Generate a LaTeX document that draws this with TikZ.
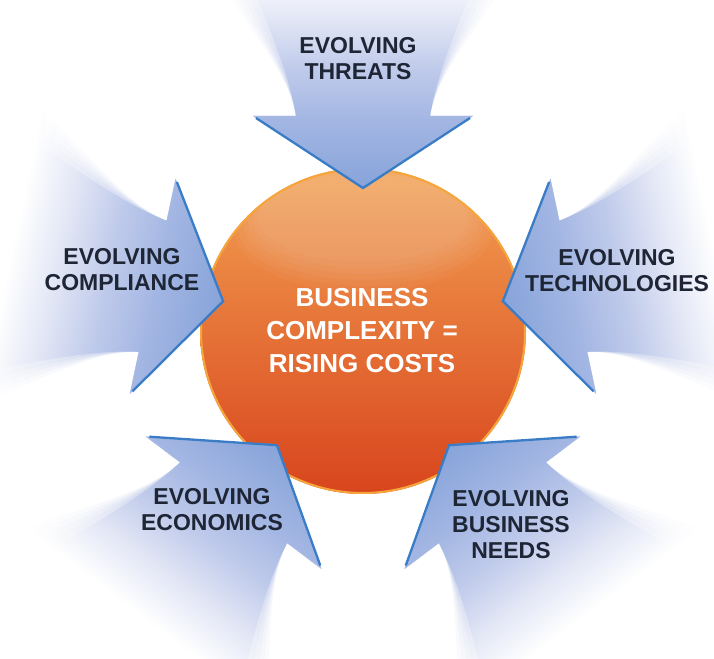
\documentclass[tikz,border=0pt]{standalone}
\usepackage{fontspec}
\setmainfont{Liberation Sans}
\definecolor{headblue}{HTML}{86A3D9}
\definecolor{neckblue}{HTML}{A3B6E3}
\definecolor{midblue}{HTML}{C0CBEB}
\definecolor{palelav}{HTML}{E4E8F6}
\definecolor{edgeblue}{HTML}{3A7DC6}
\definecolor{labelnavy}{HTML}{1E2535}
\definecolor{orangetop}{HTML}{F3A052}
\definecolor{orangemid}{HTML}{E8652B}
\definecolor{orangebot}{HTML}{D8451D}
\definecolor{rimorange}{HTML}{F6A53A}
\pgfdeclarehorizontalshading{arrowfade}{100bp}{color(0bp)=(headblue);color(25bp)=(headblue);color(37bp)=(neckblue);color(46bp)=(midblue);color(55bp)=(palelav);color(63bp)=(white);color(100bp)=(white)}
% arrow outline, pointing to the origin along the local x axis
\newcommand{\armpath}[2]{(142,0) -- (215,110) -- (215,67)
      .. controls (270,76) and (330,#1) .. (430,#2) -- (430,-#2)
      .. controls (330,-#1) and (270,-76) .. (215,-67) -- (215,-110) -- cycle}
\newcommand{\evarrow}[1]{%
  \begin{scope}[transform canvas={shift={(363,327)},rotate=#1}]
    \shade[shading=arrowfade, opacity=0.15] \armpath{140}{192};
    \shade[shading=arrowfade, opacity=0.2] \armpath{132}{181};
    \shade[shading=arrowfade, opacity=0.25] \armpath{124}{170};
    \shade[shading=arrowfade, opacity=0.3] \armpath{116}{159};
    \shade[shading=arrowfade] \armpath{106}{146};
    \draw[edgeblue, line width=2.3pt, line join=miter] (213,107) -- (143,0) -- (213,-107);
  \end{scope}}
\tikzset{
  lbltxt/.style={align=center, text=labelnavy, font=\bfseries\fontsize{23}{26}\selectfont, inner sep=0pt},
  coretxt/.style={align=center, text=white, font=\bfseries\fontsize{26}{33}\selectfont, inner sep=0pt}
}
\begin{document}
\begin{tikzpicture}[x=1pt,y=1pt]
\useasboundingbox (0,0) rectangle (714,658);
\fill[white] (0,0) rectangle (714,658);
\clip (0,0) rectangle (714,658);
% central sphere
\shade[top color=orangetop, middle color=orangemid, bottom color=orangebot] (363,327) circle (163);
\foreach \k in {0,...,5} {
  \fill[white, opacity=0.035] (363,{430+2*\k}) ellipse ({130-5*\k} and {64-4*\k});
}
\draw[rimorange, line width=2pt] (363,327) circle (162);
% arrows
\evarrow{90}
\evarrow{168}
\evarrow{12}
\evarrow{233}
\evarrow{307}
% texts
\node[coretxt] (core) at (362,327) {BUSINESS\\COMPLEXITY =\\RISING COSTS};
\node[lbltxt] (threats) at (358,599) {EVOLVING\\THREATS};
\node[lbltxt] (compliance) at (122,388) {EVOLVING\\COMPLIANCE};
\node[lbltxt] (technologies) at (617,387) {EVOLVING\\TECHNOLOGIES};
\node[lbltxt] (economics) at (212,148) {EVOLVING\\ECONOMICS};
\node[lbltxt] (needs) at (511,133) {EVOLVING\\BUSINESS\\NEEDS};
\end{tikzpicture}
\end{document}
